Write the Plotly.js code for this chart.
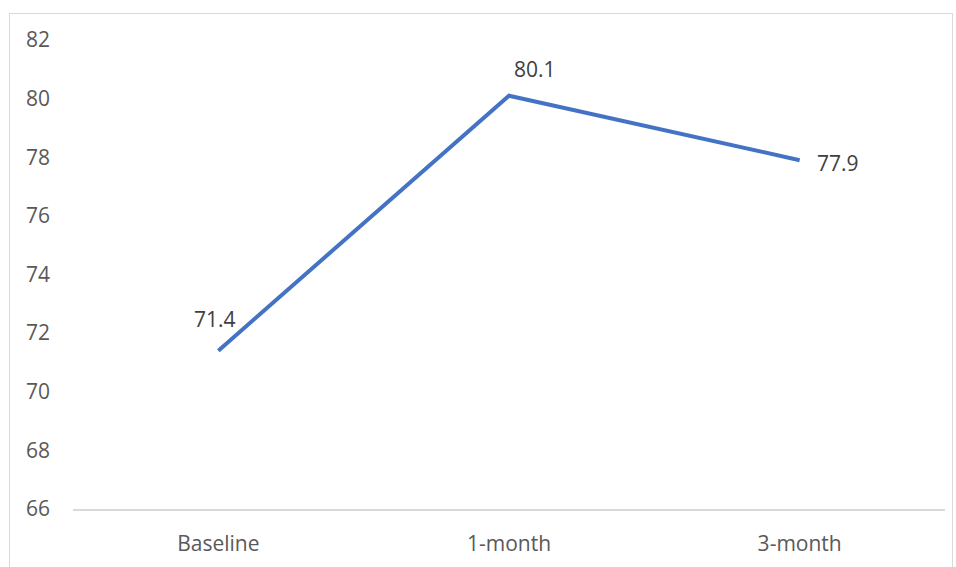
<!DOCTYPE html>
<html>
<head>
<meta charset="utf-8">
<script src="https://cdn.plot.ly/plotly-3.0.1.min.js"></script>
<style>
html,body{margin:0;padding:0;background:#fff;}
#wrap{position:relative;width:956px;height:567px;}
#chart{position:absolute;left:0;top:0;width:956px;height:567px;}
#frame{position:absolute;left:9px;top:13px;width:944px;height:570px;border:1.5px solid #d9d9d9;box-sizing:border-box;pointer-events:none;}
</style>
</head>
<body>
<div id="wrap"><div id="chart"></div><div id="frame"></div></div>
<script>
const categories = ['Baseline', '1-month', '3-month'];
const values = [71.4, 80.1, 77.9];
const yTicks = [66, 68, 70, 72, 74, 76, 78, 80, 82];

const labelOffsets = [[-3, 32], [26, 27], [38, -3]];

const trace = {
  x: categories,
  y: values,
  type: 'scatter',
  mode: 'lines',
  line: {color: '#4472C4', width: 4},
  hoverinfo: 'skip'
};

const annotations = categories.map((c, i) => ({
  x: c, y: values[i], xref: 'x', yref: 'y',
  text: values[i].toFixed(1), showarrow: false,
  xshift: labelOffsets[i][0], yshift: labelOffsets[i][1],
  font: {family: 'Open Sans, sans-serif', size: 21, color: '#404040'}
}));

const layout = {
  width: 956, height: 567,
  margin: {l: 73, r: 11, t: 40, b: 58},
  paper_bgcolor: '#ffffff', plot_bgcolor: '#ffffff',
  showlegend: false,
  font: {family: 'Open Sans, sans-serif', size: 21, color: '#595959'},
  xaxis: {
    type: 'category', range: [-0.5, 2.5],
    showgrid: false, zeroline: false,
    showline: true, linecolor: '#d9d9d9', linewidth: 1.5,
    ticks: '', ticklabelstandoff: 15,
    tickfont: {size: 21, color: '#595959'}
  },
  yaxis: {
    range: [66, 82], tickvals: yTicks,
    ticktext: yTicks.map(String),
    showgrid: false, zeroline: false, showline: false,
    ticks: '', ticklabelstandoff: 22,
    tickfont: {size: 21, color: '#595959'}
  },
  annotations: annotations
};

Plotly.newPlot('chart', [trace], layout, {displayModeBar: false, staticPlot: true});
</script>
</body>
</html>
